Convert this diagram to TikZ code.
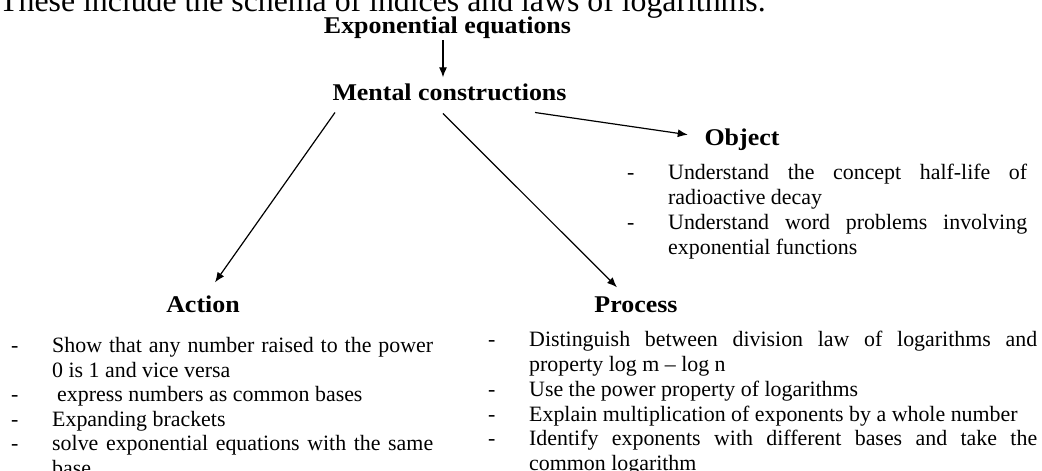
\documentclass[tikz,border=0pt]{standalone}
\usepackage{fontspec}
\setmainfont{Liberation Serif}
\newfontfamily\headfont[FakeStretch=1.08]{Liberation Serif}
\usetikzlibrary{arrows.meta,calc}
\newcommand{\itm}[1]{\par\noindent\hangindent=41pt\hangafter=1\strut\makebox[41pt][l]{-}#1\par}
\newcommand{\listsetup}{\setlength{\parskip}{0pt}\tolerance=10000\relax\hbadness=10000\relax\hyphenpenalty=10000\relax\exhyphenpenalty=10000\relax}
\begin{document}
\begin{tikzpicture}[x=1pt,y=-1pt,
  head/.style={font=\headfont\bfseries\fontsize{24}{28}\selectfont, inner sep=0pt, anchor=base},
  itemlist/.style={font=\fontsize{21.9}{24.8}\selectfont,
                   inner sep=0pt, anchor=north west, align=justify},
  arr/.style={line width=1.2pt, -{Latex[length=10pt,width=8pt]}}]
\clip (0,0) rectangle (1042,471);

\node[inner sep=0pt, anchor=base west, font=\fontsize{31.8}{36}\selectfont] (top) at (-1,12)
  {These include the schema of indices and laws of logarithms.};

\node[head] (exp)  at (447.5,33) {Exponential equations};
\node[head] (ment) at (449.5,100) {Mental constructions};
\node[head] (obj)  at (742,145) {Object};
\node[head] (act)  at (203,312) {Action};
\node[head] (proc) at (636,312) {Process};

\node[itemlist, text width=400pt] (objl) at (627,154.64) {\listsetup
\itm{Understand the concept half-life of\linebreak radioactive decay}%
\itm{Understand word problems involving\linebreak exponential functions}};

\node[itemlist, text width=422pt, font=\fontsize{21.9}{24.5}\selectfont] (actl) at (11,327.85) {\listsetup
\itm{Show that any number raised to the power\linebreak 0 is 1 and vice versa}%
\itm{\hspace*{5pt}express numbers as common bases}%
\itm{Expanding brackets}%
\itm{solve exponential equations with the same\linebreak base}};

\node[itemlist, text width=549pt] (procl) at (488,321.64) {\listsetup
\itm{Distinguish between division law of logarithms and\linebreak property log m -- log n}%
\itm{Use the power property of logarithms}%
\itm{Explain multiplication of exponents by a whole number}%
\itm{Identify exponents with different bases and take the\linebreak common logarithm}};

\draw[arr] ($(exp.south)+(-4.5,1.8)$) -- ($(ment.north)+(-6.5,-5.8)$);
\draw[arr] ($(ment.south)+(-114.5,12)$) -- ($(act.north)+(12,-12.8)$);
\draw[arr] ($(ment.south)+(-6.5,13)$) -- ($(proc.north)+(-19,-8.8)$);
\draw[arr] ($(ment.south)+(85.5,12)$) -- ($(obj.west)+(-16.6,-4.5)$);
\end{tikzpicture}
\end{document}
